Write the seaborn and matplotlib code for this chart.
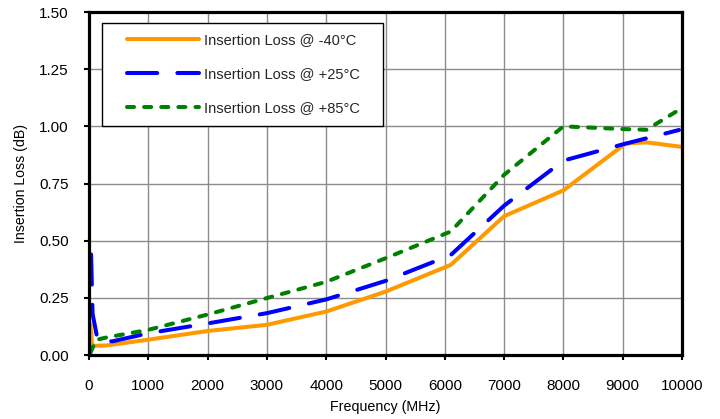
import numpy as np
import pandas as pd
import matplotlib
matplotlib.use("Agg")
import matplotlib.pyplot as plt
import seaborn as sns
from matplotlib.legend_handler import HandlerLine2D

# ---- data ----
freq_m40 = [25, 50, 100, 300, 1000, 2000, 3000, 4000, 5000, 6100, 7000, 8000, 9050, 9400, 10000]
il_m40 = [0.135, 0.045, 0.040, 0.042, 0.067, 0.105, 0.132, 0.190, 0.277, 0.394, 0.607, 0.720, 0.925, 0.930, 0.910]

freq_p25 = [35, 60, 150, 400, 1000, 2000, 3000, 4000, 5000, 6100, 7000, 8000, 9000, 9950]
il_p25 = [0.44, 0.18, 0.06, 0.06, 0.095, 0.138, 0.183, 0.243, 0.324, 0.437, 0.653, 0.850, 0.921, 0.984]

freq_p85 = [25, 120, 300, 1000, 2000, 3000, 4000, 5000, 6100, 7000, 8000, 9000, 9400, 10000]
il_p85 = [0.010, 0.066, 0.077, 0.110, 0.177, 0.249, 0.320, 0.423, 0.540, 0.788, 1.000, 0.988, 0.985, 1.080]

labels = ["Insertion Loss @ -40\u00b0C", "Insertion Loss @ +25\u00b0C", "Insertion Loss @ +85\u00b0C"]
x_ticks = [0, 1000, 2000, 3000, 4000, 5000, 6000, 7000, 8000, 9000, 10000]
y_ticks = [0.00, 0.25, 0.50, 0.75, 1.00, 1.25, 1.50]

# ---- style ----
sns.set_style("white")
plt.rcParams["font.family"] = ["Liberation Sans", "DejaVu Sans"]

fig = plt.figure(figsize=(7.2, 4.19), dpi=100)
ax = fig.add_axes([89 / 720, 1 - 355 / 419, (682 - 89) / 720, (355 - 12) / 419])

lw = 2.9
series = [
    (freq_m40, il_m40, "#FF9900", "-"),
    (freq_p25, il_p25, "#0000FF", (0, (7.5, 5.0))),
    (freq_p85, il_p85, "#008000", (0, (1.75, 2.5))),
]
for (fx, fy, col, ls), lab in zip(series, labels):
    df = pd.DataFrame({"Frequency": fx, "IL": fy})
    sns.lineplot(data=df, x="Frequency", y="IL", ax=ax, color=col, linestyle=ls,
                 linewidth=lw, label=lab, errorbar=None, sort=False,
                 dash_capstyle="round", solid_capstyle="round", legend=False)

ax.set_xlim(0, 10000)
ax.set_ylim(0, 1.5)
ax.set_xticks(x_ticks)
ax.set_xticklabels([str(t) for t in x_ticks])
ax.set_yticks(y_ticks)
ax.set_yticklabels([f"{t:.2f}" for t in y_ticks])

ax.grid(True, color="#8c8c8c", linewidth=1.0)
ax.set_axisbelow(True)
for side in ["left", "bottom", "right", "top"]:
    ax.spines[side].set_visible(True)
    ax.spines[side].set_color("black")
    ax.spines[side].set_linewidth(2.3)

ax.tick_params(axis="both", which="major", direction="out", length=3.6, width=1.5,
               color="black", labelsize=11, labelcolor="black",
               bottom=True, left=True, top=False, right=False)
ax.tick_params(axis="x", pad=14)
ax.tick_params(axis="y", pad=11)

ax.set_xlabel("Frequency (MHz)", fontsize=10.3, color="black", labelpad=5)
ax.set_ylabel("Insertion Loss (dB)", fontsize=10.2, color="black", labelpad=8)


class OffsetLineHandler(HandlerLine2D):
    def __init__(self, offset_em, **kw):
        super().__init__(**kw)
        self.offset_em = offset_em

    def create_artists(self, legend, orig_handle, xdescent, ydescent, width,
                       height, fontsize, trans):
        arts = super().create_artists(legend, orig_handle, xdescent, ydescent,
                                      width, height, fontsize, trans)
        off = self.offset_em * fontsize
        for a in arts:
            x = np.asarray(a.get_xdata(), float)
            if x.size > 1:
                a.set_xdata(np.linspace(x[0] + off, x[-1], x.size))
        return arts


handles = [h for h in ax.get_lines() if not h.get_label().startswith("_")]
x0 = (102 - 89) / 593
w = (383 - 102) / 593
top = (355 - 23) / 343
leg = ax.legend(handles, labels, loc="upper left", bbox_to_anchor=(x0, top - 0.4, w, 0.4),
                mode="expand", borderaxespad=0, fontsize=10.5, frameon=True,
                fancybox=False, shadow=False, framealpha=1, edgecolor="black",
                borderpad=0.72, labelspacing=1.36, handlelength=5.9, handletextpad=0.4,
                handler_map={h: OffsetLineHandler(1.0) for h in handles})
leg.get_frame().set_linewidth(1.0)

fig.savefig("out.png", dpi=100)
